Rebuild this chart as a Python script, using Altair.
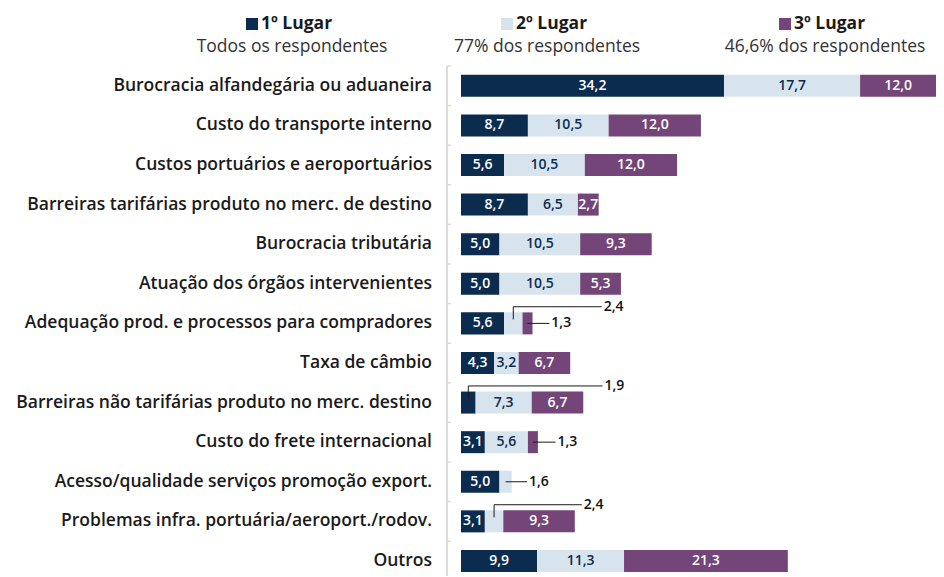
import altair as alt
import pandas as pd

categories = [
    "Burocracia alfandegária ou aduaneira",
    "Custo do transporte interno",
    "Custos portuários e aeroportuários",
    "Barreiras tarifárias produto no merc. de destino",
    "Burocracia tributária",
    "Atuação dos órgãos intervenientes",
    "Adequação prod. e processos para compradores",
    "Taxa de câmbio",
    "Barreiras não tarifárias produto no merc. destino",
    "Custo do frete internacional",
    "Acesso/qualidade serviços promoção export.",
    "Problemas infra. portuária/aeroport./rodov.",
    "Outros",
]
first = [34.2, 8.7, 5.6, 8.7, 5.0, 5.0, 5.6, 4.3, 1.9, 3.1, 5.0, 3.1, 9.9]
second = [17.7, 10.5, 10.5, 6.5, 10.5, 10.5, 2.4, 3.2, 7.3, 5.6, 1.6, 2.4, 11.3]
third = [12.0, 12.0, 12.0, 2.7, 9.3, 5.3, 1.3, 6.7, 6.7, 1.3, 0.0, 9.3, 21.3]
places = ["1º Lugar", "2º Lugar", "3º Lugar"]
subtitles = ["Todos os respondentes", "77% dos respondentes", "46,6% dos respondentes"]
colors = ["#0b2c4f", "#d7e4ee", "#744579"]

# callouts for small segments: (row, place index, style, leader end on x axis)
callouts = [
    (6, 1, "elbow", 18.3),
    (6, 2, "line", 11.5),
    (8, 0, "elbow", 18.4),
    (9, 2, "line", 12.3),
    (10, 1, "line", 8.6),
    (11, 1, "elbow", 15.7),
]

FONT = "Open Sans"
XMAX = 61.77
YMIN, YMAX = -0.5, 12.38
W, H = 475, 510
HALF = 0.278


def fmt(v):
    return f"{v:.1f}".replace(".", ",")


rows = []
for r, cat in enumerate(categories):
    start = 0.0
    for p, vals in enumerate([first, second, third]):
        v = vals[r]
        if v <= 0:
            continue
        end = start + v
        vis_end = min(end, XMAX)
        rows.append(dict(row=r, cat=cat, place=places[p], start=start, end=end,
                         y0=r - HALF, y1=r + HALF, mid=(start + vis_end) / 2,
                         label=fmt(v), pidx=p, value=v))
        start = end
seg = pd.DataFrame(rows)

callout_keys = {(c[0], c[1]) for c in callouts}
inside = seg[[(r, p) not in callout_keys for r, p in zip(seg.row, seg.pidx)]]
inside_light = inside[inside.pidx == 1]
inside_dark = inside[inside.pidx != 1]

lines = []
clabels = []
for r, p, style, xend in callouts:
    s = seg[(seg.row == r) & (seg.pidx == p)].iloc[0]
    xm = (s.start + s.end) / 2
    if style == "elbow":
        ylev = r - 0.42
        lines.append(dict(x=xm, x2=xm, y=r - 0.1, y2=ylev))
        lines.append(dict(x=xm, x2=xend, y=ylev, y2=ylev))
    else:
        ylev = r
        lines.append(dict(x=xm, x2=xend, y=r, y2=r))
    clabels.append(dict(x=xend + 0.25, y=ylev, label=s.label))
lines = pd.DataFrame(lines)
clabels = pd.DataFrame(clabels)

xs = alt.Scale(domain=[0, XMAX], nice=False, zero=False)
ys = alt.Scale(domain=[YMIN, YMAX], nice=False, zero=False, reverse=True)


def X(f):
    return alt.X(f, scale=xs, axis=None)


def Y(f):
    return alt.Y(f, scale=ys, axis=None)


bars = alt.Chart(seg).mark_bar(clip=True).encode(
    x=X("start:Q"),
    x2="end:Q",
    y=Y("y0:Q"),
    y2="y1:Q",
    color=alt.Color("place:N", scale=alt.Scale(domain=places, range=colors), legend=None),
)

inner_dark = alt.Chart(inside_dark).mark_text(font=FONT, fontSize=14, fontWeight=600,
                                              color="#ffffff").encode(
    x=X("mid:Q"), y=Y("row:Q"), text="label:N",
)
inner_light = alt.Chart(inside_light).mark_text(font=FONT, fontSize=14, fontWeight=600,
                                                color=colors[0]).encode(
    x=X("mid:Q"), y=Y("row:Q"), text="label:N",
)

leaders = alt.Chart(lines).mark_rule(color="#1a1a1a", strokeWidth=1).encode(
    x=X("x:Q"), x2="x2:Q", y=Y("y:Q"), y2="y2:Q",
)

outer = alt.Chart(clabels).mark_text(font=FONT, fontSize=14, fontWeight=600,
                                     align="left", color="#111111").encode(
    x=X("x:Q"), y=Y("y:Q"), text="label:N",
)

cat_df = pd.DataFrame({"row": list(range(len(categories))), "cat": categories})
cat_labels = alt.Chart(cat_df).mark_text(font=FONT, fontSize=17.5, fontWeight=600,
                                         align="right", color="#1a1a1a").encode(
    x=alt.value(-29), y=Y("row:Q"), text="cat:N",
)

line_df = pd.DataFrame({"a": [YMIN], "b": [YMAX]})
axis_line = alt.Chart(line_df).mark_rule(color="#dcdcdc", strokeWidth=2).encode(
    x=alt.value(-14), y=Y("a:Q"), y2="b:Q",
)
ticks_df = pd.DataFrame({"b": [i - 0.5 for i in range(len(categories) + 1) if i - 0.5 <= YMAX]})
ticks = alt.Chart(ticks_df).mark_rule(color="#dcdcdc", strokeWidth=1.5).encode(
    x=alt.value(-14), x2=alt.value(-10), y=Y("b:Q"),
)

legend_centers = [-169, 86, 364]
legend_layers = []
for i in range(3):
    ldf = pd.DataFrame({"title": [places[i]], "sub": [subtitles[i]]})
    cx = legend_centers[i]
    sq = alt.Chart(ldf).mark_square(size=144, opacity=1, filled=True, color=colors[i]).encode(
        x=alt.value(cx - 40), y=alt.value(-42), detail="title:N",
    )
    tt = alt.Chart(ldf).mark_text(font=FONT, fontSize=17.5, fontWeight="bold",
                                  align="left", color="#1a1a1a").encode(
        x=alt.value(cx - 31), y=alt.value(-42), text="title:N",
    )
    st = alt.Chart(ldf).mark_text(font=FONT, fontSize=17.5, align="center",
                                  color="#333333").encode(
        x=alt.value(cx), y=alt.value(-19), text="sub:N",
    )
    legend_layers += [sq, tt, st]

chart = alt.layer(
    axis_line, ticks, bars, inner_dark, inner_light, leaders, outer, cat_labels, *legend_layers
).properties(
    width=W, height=H,
    autosize=alt.AutoSizeParams(type="none"),
    padding={"left": 453, "top": 58, "right": 0, "bottom": 0},
).configure_view(stroke=None).configure_axis(disable=True)

chart.save("out.html", embed_options={"renderer": "svg", "actions": False})
